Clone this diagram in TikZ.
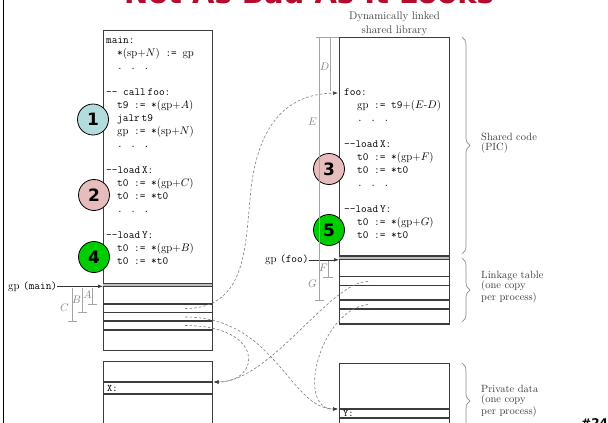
\documentclass[tikz,border=0pt]{standalone}
\usepackage{fontspec}
\newfontfamily\sansb{DejaVu Sans}
\usetikzlibrary{arrows.meta,decorations.pathreplacing}
\definecolor{boxc}{RGB}{60,60,60}
\definecolor{measc}{RGB}{165,165,165}
\definecolor{dashc}{RGB}{125,125,125}
\definecolor{titlered}{RGB}{180,12,45}
\definecolor{cteal}{RGB}{178,220,222}
\definecolor{cpink}{RGB}{230,188,188}
\definecolor{cgreen}{RGB}{0,205,0}
\definecolor{lblc}{RGB}{60,60,60}
\newcommand{\codett}[1]{{\ttfamily#1}}
\tikzset{
  box/.style={draw=boxc, line width=1.25pt, inner sep=0pt},
  row/.style={draw=boxc, line width=1.25pt},
  meas/.style={draw=measc, line width=0.6pt},
  conn/.style={draw=dashc, line width=0.6pt, dash pattern=on 2.6pt off 2pt, -{Latex[length=5pt,width=3.6pt,color=black!75]}},
  gparr/.style={draw=black!80, line width=0.6pt, -{Latex[length=5pt,width=3.6pt]}},
  code/.style={anchor=base west, inner sep=0pt, font=\fontsize{11}{13}\selectfont},
  num/.style={circle, draw=black, line width=0.8pt, minimum size=31pt, inner sep=0pt, font=\sansb\bfseries\fontsize{17}{17}\selectfont},
  lbl/.style={anchor=west, align=left, inner sep=0pt, text=lblc, font=\fontsize{10.5}{10.3}\selectfont},
  mlbl/.style={inner sep=0pt, text=measc!80!black, font=\fontsize{11}{11}\selectfont},
  brc/.style={draw=measc!85!black, line width=0.7pt, decorate, decoration={brace, amplitude=8pt}}
}
\begin{document}
\begin{tikzpicture}[x=1pt,y=-1pt]
\useasboundingbox (0,0) rectangle (608,423);
\clip (0,0) rectangle (608,423);
\fill[white] (0,0) rectangle (608,423);

% title and page number (cut off)
\node[anchor=base, inner sep=0pt, text=titlered, font=\sansb\bfseries\fontsize{29}{29}\selectfont] (title) at (309,3.8) {Not As Bad As It Looks};
\node[anchor=base west, inner sep=0pt, font=\sansb\bfseries\fontsize{12}{12}\selectfont] (pg) at (581,427) {\#24};
\draw[black, line width=1.6pt] (3.5,-5) -- (3.5,430);

% boxes
\node[box, anchor=north west, minimum width=109pt, minimum height=320.5pt] (mainbox) at (103,29.5) {};
\node[box, anchor=north west, minimum width=109.5pt, minimum height=286.3pt] (libbox) at (339,37) {};
\node[box, anchor=north west, minimum width=109pt, minimum height=90pt] (datL) at (103,361) {};
\node[box, anchor=north west, minimum width=109.5pt, minimum height=90pt] (datR) at (339,363) {};

% main box rows
\fill[black!25] (103,283.5) rectangle (212,286.5);
\draw[row] (103,283.5) -- (212,283.5);
\draw[row] (103,286.5) -- (212,286.5);
\foreach \yy in {304,312.7,321,330} \draw[row] (103,\yy) -- (212,\yy);
% lib box rows
\fill[black!25] (339,256) rectangle (448.5,259.3);
\draw[row] (339,256) -- (448.5,256);
\draw[row] (339,259.3) -- (448.5,259.3);
\foreach \yy in {276.7,285.7,300,309} \draw[row] (339,\yy) -- (448.5,\yy);
% data rows
\draw[row] (103,382) -- (212,382);
\draw[row] (103,394) -- (212,394);
\draw[row] (339,409) -- (448.5,409);
\draw[row] (339,418) -- (448.5,418);
\node[code, font=\ttfamily\fontsize{10}{12}\selectfont] (xlab) at (107,391.5) {X:};
\node[code, font=\ttfamily\fontsize{10}{12}\selectfont] (ylab) at (343,416.5) {Y:};

% main code
\node[code] (m0) at (106,43.5) {\codett{main:}};
\node[code] (m1) at (117,56.5) {\codett{*}(sp+$N$)\codett{ := }gp};
\node[code] (m2) at (117,69.5) {\codett{. . .}};
\node[code] (m4) at (106,95.5) {\codett{-- call}\,\codett{foo:}};
\node[code] (m5) at (117,108.5) {\codett{t9 := *}(gp+$A$)};
\node[code] (m6) at (117,121.5) {\codett{jalr}\,\codett{t9}};
\node[code] (m7) at (117,134.5) {gp\codett{ := *}(sp+$N$)};
\node[code] (m8) at (117,147.5) {\codett{. . .}};
\node[code] (m10) at (106,173.5) {\codett{--load}\,\codett{X:}};
\node[code] (m11) at (117,186.5) {\codett{t0 := *}(gp+$C$)};
\node[code] (m12) at (117,199.5) {\codett{t0 := *t0}};
\node[code] (m13) at (117,212.5) {\codett{. . .}};
\node[code] (m15) at (106,238.5) {\codett{--load}\,\codett{Y:}};
\node[code] (m16) at (117,251.5) {\codett{t0 := *}(gp+$B$)};
\node[code] (m17) at (117,264.5) {\codett{t0 := *t0}};

% library code
\node[code] (f4) at (344,95.5) {\codett{foo:}};
\node[code] (f5) at (357,108.5) {gp\codett{ := t9}+($E$-$D$)};
\node[code] (f6) at (357,121.5) {\codett{. . .}};
\node[code] (f8) at (344,147.5) {\codett{--load}\,\codett{X:}};
\node[code] (f9) at (357,160.5) {\codett{t0 := *}(gp+$F$)};
\node[code] (f10) at (357,173.5) {\codett{t0 := *t0}};
\node[code] (f11) at (357,186.5) {\codett{. . .}};
\node[code] (f13) at (344,212.5) {\codett{--load}\,\codett{Y:}};
\node[code] (f14) at (357,225.5) {\codett{t0 := *}(gp+$G$)};
\node[code] (f15) at (357,238.5) {\codett{t0 := *t0}};

% numbered circles
\node[num, fill=cteal] (n1) at (93,119.5) {1};
\node[num, fill=cpink] (n2) at (94,195) {2};
\node[num, fill=cgreen] (n4) at (94,257) {4};
\node[num, fill=cpink] (n3) at (329,169) {3};
\node[num, fill=cgreen] (n5) at (329,230) {5};

% library heading
\node[inner sep=0pt, align=center, text=lblc, font=\fontsize{11}{14}\selectfont] (libttl) at (394.5,23.5) {Dynamically linked\\shared library};

% gp pointers
\node[code] (gpm) at (8,289) {gp \codett{(main)}};
\draw[gparr] (gpm.east) -- (gpm.east -| mainbox.west);
\node[code] (gpf) at (265,262.5) {gp \codett{(foo)}};
\draw[gparr] (gpf.east) -- (gpf.east -| libbox.west);

% offsets in main
\draw[meas] (92,288) -- (92,304) (88,304) -- (97,304);
\draw[meas] (82,288) -- (82,312.5) (78,312.5) -- (87,312.5);
\draw[meas] (72,288) -- (72,321) (68,321) -- (77,321);
\node[mlbl] (la) at (87.5,295) {$A$};
\node[mlbl] (lb) at (76.5,300) {$B$};
\node[mlbl] (lc) at (64.5,308) {$C$};

% offsets in library
\draw[meas] (316,37) -- (339,37);
\draw[meas] (330,37) -- (330,91);
\draw[meas] (319,37) -- (319,300) (315,300) -- (324,300);
\draw[meas] (328,261) -- (328,277) (323,277) -- (333,277);
\node[mlbl] (ld) at (324.5,67) {$D$};
\node[mlbl] (le) at (312.5,122) {$E$};
\node[mlbl] (lf) at (323.5,268) {$F$};
\node[mlbl] (lg) at (312.5,283.5) {$G$};

% connectors
\coordinate (sA) at (185,308.5);
\coordinate (sB) at (185,317);
\coordinate (sC) at (185,325.5);
\coordinate (sF) at (368,281.5);
\coordinate (sG) at (368,304.5);
\coordinate (tFoo) at (338,93);
\coordinate (tX) at (213.5,382);
\coordinate (tY) at (338,409);
\draw[conn] (sA) .. controls (245,308.5) and (245,250) .. (250,200) .. controls (256,120) and (290,94) .. (tFoo);
\draw[conn] (sB) .. controls (275,317) and (290,409) .. (tY);
\draw[conn] (sC) .. controls (265,325.5) and (262,382) .. (tX);
\draw[conn] (sF) .. controls (330,281.5) and (270,382) .. (tX);
\draw[conn] (sG) .. controls (320,310) and (295,409) .. (tY);

% braces
\draw[brc] (462,37) -- (462,254);
\draw[brc] (462,258) -- (462,322);
\draw[brc] (462,363) -- (462,439);
\node[lbl] (shared) at (481,143) {Shared code\\(PIC)};
\node[lbl] (link) at (481,287) {Linkage table\\(one copy\\per process)};
\node[lbl] (priv) at (481,401) {Private data\\(one copy\\per process)};
\end{tikzpicture}
\end{document}
